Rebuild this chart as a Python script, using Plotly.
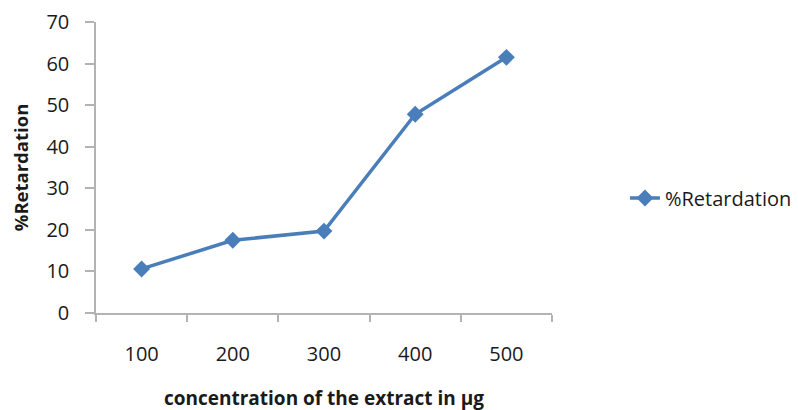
import plotly.graph_objects as go

# concentration categories and measured retardation
concentration = ["100", "200", "300", "400", "500"]
retardation = [10.6, 17.5, 19.7, 47.8, 61.5]

blue = "#4a7ebb"
axis_grey = "#b3b3b3"
font_family = "Open Sans, Noto Sans, DejaVu Sans, sans-serif"

fig = go.Figure()
fig.add_trace(go.Scatter(
    x=concentration, y=retardation, mode="lines+markers", name="%Retardation",
    line=dict(color=blue, width=3.5),
    marker=dict(symbol="diamond", size=13, color=blue),
))

# page body adds an 8px offset, so margins are shifted to compensate
fig.update_layout(
    width=798, height=410,
    margin=dict(l=88, r=254, t=14, b=105, autoexpand=False),
    paper_bgcolor="white", plot_bgcolor="white",
    font=dict(family=font_family, color="#1a1a1a"),
    showlegend=True,
    legend=dict(x=1.16, y=0.395, xanchor="left", yanchor="middle",
                font=dict(size=20, color="#1a1a1a"), bgcolor="rgba(0,0,0,0)"),
)
fig.update_xaxes(
    type="category", range=[-0.5, 4.5], tickson="boundaries",
    ticks="outside", ticklen=7, tickcolor=axis_grey, tickwidth=1.5,
    showline=True, linecolor=axis_grey, linewidth=1.5, showgrid=False,
    tickfont=dict(size=20), zeroline=False, ticklabelstandoff=22,
    title=dict(text="<b>concentration of the extract in µg</b>", font=dict(size=19), standoff=26),
)
fig.update_yaxes(
    range=[0, 70], dtick=10, ticks="outside", ticklen=9, tickcolor=axis_grey, tickwidth=1.5,
    showline=True, linecolor=axis_grey, linewidth=1.5, showgrid=False, zeroline=False,
    tickfont=dict(size=20), ticklabelstandoff=12,
    title=dict(text="<b>%Retardation</b>", font=dict(size=18.5), standoff=20),
)

fig.write_html("out.html")
